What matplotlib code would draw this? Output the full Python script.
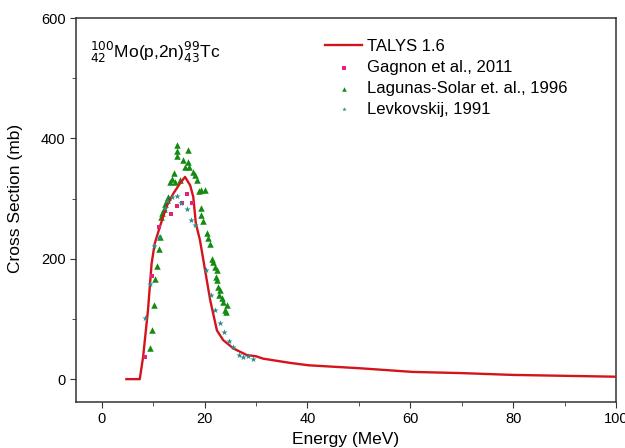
import matplotlib.pyplot as plt
from matplotlib.ticker import MultipleLocator

plt.rcParams['font.family'] = ['Liberation Sans', 'DejaVu Sans']

# TALYS 1.6 calculation
talys_e = [4.8, 7.4, 8.05, 9.0, 9.7, 10.3, 11.3, 12.6, 13.9, 15.2, 16.2, 17.2, 17.8,
           18.3, 19.1, 20.1, 21.1, 22.4, 23.6, 25.6, 28.2, 30.0, 31.4, 36.6, 40.2,
           50.3, 60.4, 70.0, 79.9, 90.0, 100.0]
talys_xs = [0, 0, 37, 115, 192, 225, 253, 287, 308, 325, 336, 322, 303,
            259, 231, 181, 131, 81, 65, 51, 40, 38, 34, 27, 23,
            18, 12, 10, 7, 5.5, 4]

# Gagnon et al., 2011
gag_e = [8.4, 9.8, 11.2, 13.4, 14.6, 15.6, 16.6, 17.5]
gag_xs = [36, 172, 252, 275, 288, 292, 307, 293]

# Lagunas-Solar et al., 1996
lag_e = [9.4, 9.75, 10.1, 10.4, 10.8, 11.05, 11.3, 11.5, 11.8, 12.1, 12.35, 12.6,
         12.9, 13.25, 13.6, 14.0, 14.2, 14.55, 14.55, 14.55, 15.2, 15.85, 16.2,
         16.8, 16.8, 16.9, 17.8, 18.1, 18.45, 18.95, 19.4, 20.1, 19.4, 19.4,
         19.75, 20.4, 20.7, 21.05, 21.4, 21.7, 22.0, 22.35, 22.2, 22.35, 22.7,
         23.0, 22.9, 23.3, 23.65, 24.0, 24.3, 24.2]
lag_xs = [51, 82, 123, 166, 188, 217, 236, 269, 276, 283, 291, 298,
          303, 328, 332, 342, 328, 371, 379, 389, 331, 364, 353,
          380, 361, 352, 345, 339, 331, 312, 314, 315, 285, 273,
          262, 242, 234, 225, 200, 195, 187, 181, 170, 165, 153,
          148, 140, 134, 128, 115, 123, 112]

# Levkovskij, 1991
lev_e = [8.45, 9.35, 10.2, 11.2, 12.3, 12.7, 13.6, 14.7, 15.5, 16.5, 17.35, 18.1,
         20.3, 21.2, 22.0, 23.0, 23.85, 24.8, 25.6, 26.6, 27.5, 28.5, 29.4]
lev_xs = [101, 158, 221, 236, 284, 296, 303, 304, 293, 282, 265, 256,
          181, 140, 115, 93, 79, 64, 53, 40, 36, 38, 34]

fig = plt.figure(figsize=(6.25, 4.48), dpi=100)
ax = fig.add_axes([0.1216, 0.1027, 0.864, 0.857])

ax.plot(talys_e, talys_xs, color='#d4141c', lw=1.7, label='TALYS 1.6', zorder=3)
ax.scatter(gag_e, gag_xs, marker='s', s=10, color='#e8207a', lw=0,
           label='Gagnon et al., 2011', zorder=4)
ax.scatter(lag_e, lag_xs, marker='^', s=22, color='#138a13', lw=0,
           label='Lagunas-Solar et. al., 1996', zorder=2)
ax.scatter(lev_e, lev_xs, marker='*', s=22, color='#2a8c8c', lw=0,
           label='Levkovskij, 1991', zorder=5)

ax.set_xlim(-5, 100)
ax.set_ylim(-38, 600)
ax.xaxis.set_major_locator(MultipleLocator(20))
ax.xaxis.set_minor_locator(MultipleLocator(10))
ax.yaxis.set_major_locator(MultipleLocator(200))
ax.yaxis.set_minor_locator(MultipleLocator(100))
ax.tick_params(which='both', direction='out', top=False, right=False,
               labelsize=10.5, color='#333333')
ax.tick_params(which='major', length=4)
ax.tick_params(which='minor', length=3)
for s in ax.spines.values():
    s.set_linewidth(1.1)
    s.set_color('#333333')

ax.set_xlabel('Energy (MeV)', fontsize=12.5)
ax.set_ylabel('Cross Section (mb)', fontsize=12.5)
ax.yaxis.set_label_coords(-0.098, 0.531)

ax.text(0.025, 0.91, r'$^{100}_{42}$Mo(p,2n)$^{99}_{43}$Tc', transform=ax.transAxes,
        fontsize=12.5, va='center', ha='left')

ax.legend(loc='upper left', bbox_to_anchor=(0.44, 0.975), frameon=False,
          fontsize=12, handlelength=2.2, markerscale=0.7, labelspacing=0.35,
          borderpad=0.2, handletextpad=0.3)

fig.savefig('out.png', dpi=100)
